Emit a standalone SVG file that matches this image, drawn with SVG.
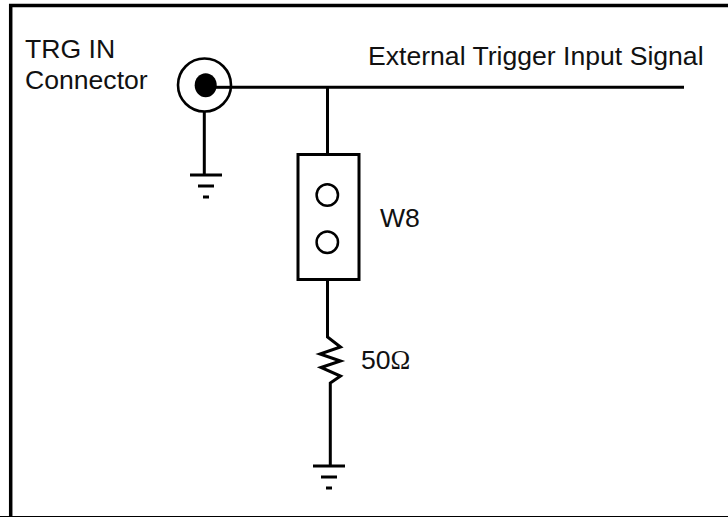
<svg xmlns="http://www.w3.org/2000/svg" width="728" height="517" viewBox="0 0 728 517">
<style>
.w{fill:none;stroke:#000;stroke-width:3}
.t{font-family:"Liberation Sans",Arial,sans-serif;font-size:26.600px;fill:#111}
</style>
<defs>
<g id="gnd"><path d="M-16 0H16M-8 11H8M-3 22H3" fill="none" stroke="#000" stroke-width="3"/></g>
</defs>
<rect width="728" height="517" fill="#fff"/>
<path id="frame" d="M10.700 517V5.500H728" fill="none" stroke="#000" stroke-width="3.500"/>
<path d="M0 516.500H728" stroke="#000" stroke-width="1" fill="none" id="frame-bottom"/>
<g id="connectors">
<path class="w" d="M205 87.300H684"/>
<path class="w" d="M204.300 112V175"/>
<path class="w" d="M327.500 87V155"/>
<path class="w" d="M327.500 280V337L340.500 347L320 354L340.500 361L321 367.500L340.500 376L330.300 383V466"/>
</g>
<g id="trg-in">
<circle cx="204.500" cy="85" r="26.500" fill="#fff" stroke="#000" stroke-width="2.600"/>
<ellipse cx="205.700" cy="85.300" rx="11" ry="12" fill="#000"/>
<path class="w" d="M206 87.300H232"/>
<text class="t" x="25" y="57.500">TRG IN</text>
<text class="t" x="25" y="88.500">Connector</text>
</g>
<g id="ground1"><use href="#gnd" x="206" y="175"/></g>
<g id="signal-label"><text class="t" x="368" y="64.500">External Trigger Input Signal</text></g>
<g id="w8">
<rect x="298" y="154.500" width="61" height="125" fill="#fff" stroke="#000" stroke-width="3"/>
<circle cx="327.300" cy="195" r="10.700" fill="#fff" stroke="#000" stroke-width="2.500"/>
<circle cx="327.300" cy="242.300" r="10.700" fill="#fff" stroke="#000" stroke-width="2.500"/>
<text class="t" x="380" y="227">W8</text>
</g>
<g id="r50"><text class="t" x="361" y="369">50<tspan font-family="Liberation Serif,serif">Ω</tspan></text></g>
<g id="ground2"><use href="#gnd" x="329" y="466"/></g>
</svg>
